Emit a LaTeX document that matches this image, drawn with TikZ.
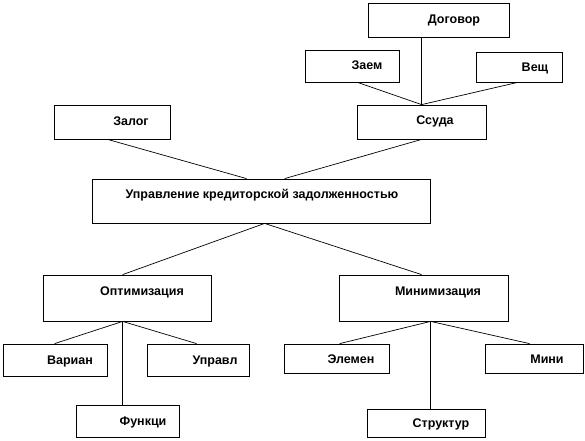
\documentclass[tikz,border=0pt]{standalone}
\usepackage{fontspec}
\setmainfont{Liberation Sans}
\begin{document}
\begin{tikzpicture}[x=1pt,y=-1pt,
  box/.style={draw,line width=0.8pt,inner sep=0pt,fill=white},
  lbl/.style={font=\bfseries\fontsize{12.5}{14}\selectfont,inner sep=0pt,anchor=center},
  con/.style={line width=0.7pt}]
\useasboundingbox (0,0) rectangle (585,440);
% boxes
\node[box,minimum width=141,minimum height=34] (dog)   at (438.5,20) {};
\node[box,minimum width=94, minimum height=32] (zaem)  at (352,66) {};
\node[box,minimum width=86, minimum height=30] (vesch) at (519,67) {};
\node[box,minimum width=129,minimum height=34] (ssuda) at (421.5,122) {};
\node[box,minimum width=116,minimum height=34] (zalog) at (112,122) {};
\node[box,minimum width=338,minimum height=44] (upr)   at (261,201) {};
\node[box,minimum width=168,minimum height=46] (opt)   at (127,298) {};
\node[box,minimum width=104,minimum height=32] (var)   at (55,360) {};
\node[box,minimum width=102,minimum height=32] (uprl)  at (198,360) {};
\node[box,minimum width=103,minimum height=32] (funk)  at (127.5,421) {};
\node[box,minimum width=169,minimum height=46] (mini)  at (423.5,298) {};
\node[box,minimum width=105,minimum height=29] (elem)  at (336.5,358.5) {};
\node[box,minimum width=98, minimum height=29] (mn)    at (534,358.5) {};
\node[box,minimum width=118,minimum height=28] (str)   at (426,423) {};
% labels
\node[lbl] (tdog)   at (454,20)  {Договор};
\node[lbl] (tzaem)  at (367,65)  {Заем};
\node[lbl] (tvesch) at (535,68)  {Вещ};
\node[lbl] (tssuda) at (435,121) {Ссуда};
\node[lbl] (tzalog) at (131,121) {Залог};
\node[lbl] (tupr)   at (262,195) {Управление кредиторской задолженностью};
\node[lbl] (topt)   at (142,292) {Оптимизация};
\node[lbl] (tvar)   at (70,361)  {Вариан};
\node[lbl] (tuprl)  at (215,361) {Управл};
\node[lbl] (tfunk)  at (143,422) {Функци};
\node[lbl] (tmini)  at (438,292) {Минимизация};
\node[lbl] (telem)  at (351,359) {Элемен};
\node[lbl] (tmn)    at (547,359) {Мини};
\node[lbl] (tstr)   at (441,424) {Структур};
% connectors
\draw[con] ([xshift=54]dog.south west) -- ([xshift=65]ssuda.north west);
\draw[con] ([xshift=53]zaem.south west) -- ([xshift=65]ssuda.north west);
\draw[con] ([xshift=42]vesch.south west) -- ([xshift=65]ssuda.north west);
\draw[con] ([xshift=54]zalog.south west) -- ([xshift=155]upr.north west);
\draw[con] ([xshift=65]ssuda.south west) -- ([xshift=193]upr.north west);
\draw[con] ([xshift=173]upr.south west) -- ([xshift=80]opt.north west);
\draw[con] ([xshift=173]upr.south west) -- ([xshift=83]mini.north west);
\draw[con] ([xshift=80]opt.south west) -- ([xshift=52]var.north west);
\draw[con] ([xshift=80]opt.south west) -- ([xshift=50]uprl.north west);
\draw[con] ([xshift=80]opt.south west) -- ([xshift=47]funk.north west);
\draw[con] ([xshift=92]mini.south west) -- ([xshift=56]elem.north west);
\draw[con] ([xshift=92]mini.south west) -- ([xshift=45]mn.north west);
\draw[con] ([xshift=92]mini.south west) -- ([xshift=64]str.north west);
\end{tikzpicture}
\end{document}
